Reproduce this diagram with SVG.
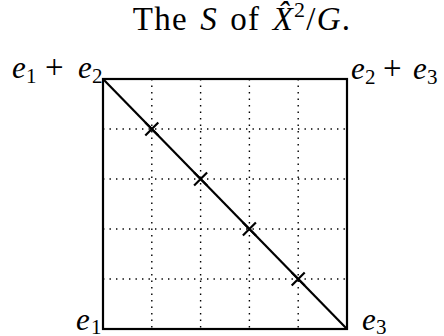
<svg xmlns="http://www.w3.org/2000/svg" width="444" height="336" viewBox="0 0 444 336">
<style>
  .t { font-family: "Liberation Serif", "DejaVu Serif", serif; fill: #000; }
  .m { font-style: italic; }
  .frame { fill: none; stroke: #000; stroke-width: 2.2; stroke-linejoin: miter; }
  .dot { stroke: #000; stroke-width: 1.4; stroke-dasharray: 1.4 5.1; fill: none; }
  .cross { stroke: #000; stroke-width: 2.2; fill: none; }
</style>
<rect width="444" height="336" fill="#fff"/>
<text class="t" x="242" y="30" font-size="33" letter-spacing="1.2" word-spacing="3" text-anchor="middle">The <tspan class="m">S</tspan> of <tspan class="m">X̂</tspan><tspan font-size="22" dy="-13">2</tspan><tspan dy="13">/</tspan><tspan class="m">G</tspan>.</text>
<g id="grid">
  <path class="dot" d="M151.8 79V329M200.6 79V329M249.4 79V329M298.2 79V329M103 129H347M103 179H347M103 229H347M103 279H347"/>
</g>
<g id="square">
  <rect class="frame" x="103" y="79" width="244" height="250"/>
</g>
<g id="connectors">
  <line class="frame" x1="103" y1="79" x2="347" y2="329"/>
</g>
<g id="crosses">
  <path class="cross" d="M145.3 122.5l13 13m0 -13l-13 13"/>
  <path class="cross" d="M194.1 172.5l13 13m0 -13l-13 13"/>
  <path class="cross" d="M242.9 222.5l13 13m0 -13l-13 13"/>
  <path class="cross" d="M291.7 272.5l13 13m0 -13l-13 13"/>
</g>
<g id="node-e1e2">
  <text class="t" font-size="31"><tspan class="m" x="12" y="78">e</tspan><tspan x="26" y="83" font-size="21">1</tspan><tspan x="45" y="78" font-size="33">+</tspan><tspan class="m" x="78" y="78">e</tspan><tspan x="92" y="83" font-size="21">2</tspan></text>
</g>
<g id="node-e2e3">
  <text class="t" font-size="31"><tspan class="m" x="351" y="79">e</tspan><tspan x="365" y="84" font-size="21">2</tspan><tspan x="383" y="79" font-size="33">+</tspan><tspan class="m" x="413" y="79">e</tspan><tspan x="427" y="84" font-size="21">3</tspan></text>
</g>
<g id="node-e1">
  <text class="t" font-size="31"><tspan class="m" x="76" y="330">e</tspan><tspan x="91" y="334" font-size="21">1</tspan></text>
</g>
<g id="node-e3">
  <text class="t" font-size="31"><tspan class="m" x="362" y="330">e</tspan><tspan x="376" y="334" font-size="21">3</tspan></text>
</g>
</svg>
